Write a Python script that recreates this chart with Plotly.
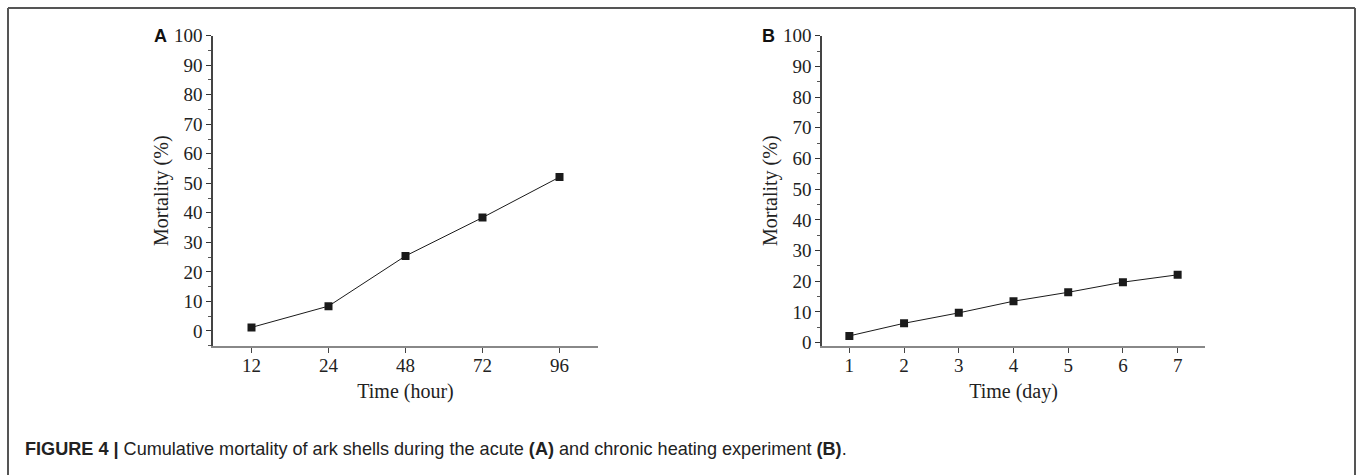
import plotly.graph_objects as go

W, H = 1357, 475

# Data
hours = ["12", "24", "48", "72", "96"]
mort_acute = [1.2, 8.4, 25.4, 38.4, 52.1]
days = [1, 2, 3, 4, 5, 6, 7]
mort_chronic = [2.2, 6.3, 9.7, 13.5, 16.4, 19.7, 22.1]
y_ticks = [0, 10, 20, 30, 40, 50, 60, 70, 80, 90, 100]

def px_x(p):
    return p / W

def px_y(p):
    return 1 - p / H

fig = go.Figure()

line_style = dict(color="#1a1a1a", width=1)
marker_style = dict(symbol="square", size=8, color="#1a1a1a")

fig.add_trace(go.Scatter(x=hours, y=mort_acute, mode="lines+markers",
                         line=line_style, marker=marker_style,
                         xaxis="x", yaxis="y", showlegend=False))
fig.add_trace(go.Scatter(x=days, y=mort_chronic, mode="lines+markers",
                         line=line_style, marker=marker_style,
                         xaxis="x2", yaxis="y2", showlegend=False))

serif = "Liberation Serif, Times New Roman, serif"
tickfont = dict(family=serif, size=19, color="#222")
titlefont = dict(family=serif, size=20, color="#222")

common_y = dict(
    tickmode="array", tickvals=y_ticks, ticks="outside", ticklen=5,
    tickcolor="#333", showline=True, linecolor="#444", linewidth=1.5,
    showgrid=False, zeroline=False, tickfont=tickfont, automargin=False,
    minor=dict(dtick=5, tick0=0, ticks="outside", ticklen=3, tickcolor="#555"),
    title=dict(text="Mortality (%)", font=titlefont, standoff=0),
)
common_x = dict(
    ticks="outside", ticklen=5, tickcolor="#444", showline=True,
    linecolor="#888", linewidth=2, showgrid=False, zeroline=False,
    tickfont=tickfont, automargin=False, ticklabelstandoff=-4,
)

y0, y1 = px_y(345.7), px_y(35.7)

fig.update_layout(
    width=W, height=H,
    margin=dict(l=0, r=0, t=0, b=0, autoexpand=False),
    paper_bgcolor="white", plot_bgcolor="white",
    xaxis=dict(domain=[px_x(213), px_x(598)], anchor="y", type="category",
               range=[-0.5, 4.5],
               title=dict(text="Time (hour)", font=titlefont, standoff=9),
               **common_x),
    yaxis=dict(domain=[y0, y1], anchor="x", range=[-5, 100], **common_y),
    xaxis2=dict(domain=[px_x(822), px_x(1205)], anchor="y2",
                range=[0.5, 7.5], tickmode="array", tickvals=days,
                title=dict(text="Time (day)", font=titlefont, standoff=9),
                **common_x),
    yaxis2=dict(domain=[y0, y1], anchor="x2", range=[-1, 100], **common_y),
)

# Panel letters
for letter, xp in [("A", 160.5), ("B", 768.5)]:
    fig.add_annotation(text=f"<b>{letter}</b>", x=px_x(xp), y=px_y(36),
                       xref="paper", yref="paper", showarrow=False,
                       xanchor="center", yanchor="middle",
                       font=dict(family="Liberation Sans, Arial, sans-serif",
                                 size=18, color="#111"))

# Caption
fig.add_annotation(
    text="<b>FIGURE 4 |</b> Cumulative mortality of ark shells during the acute "
         "<b>(A)</b> and chronic heating experiment <b>(B)</b>.",
    x=px_x(23), y=px_y(449), xref="paper", yref="paper", showarrow=False,
    xanchor="left", yanchor="middle",
    font=dict(family="Liberation Sans, Arial, sans-serif",
              size=18.1, color="#222"))

# Figure frame (top, left, right)
frame = dict(color="#555", width=2)
fig.add_shape(type="line", xref="paper", yref="paper",
              x0=px_x(8), x1=px_x(1355), y0=px_y(8), y1=px_y(8), line=frame)
fig.add_shape(type="line", xref="paper", yref="paper",
              x0=px_x(8), x1=px_x(8), y0=px_y(8), y1=0, line=frame)
fig.add_shape(type="line", xref="paper", yref="paper",
              x0=px_x(1355), x1=px_x(1355), y0=px_y(8), y1=0, line=frame)

fig.write_html(
    "out.html",
    config={"displayModeBar": False},
    post_script="document.body.style.margin='0';document.body.style.overflow='hidden';",
)
